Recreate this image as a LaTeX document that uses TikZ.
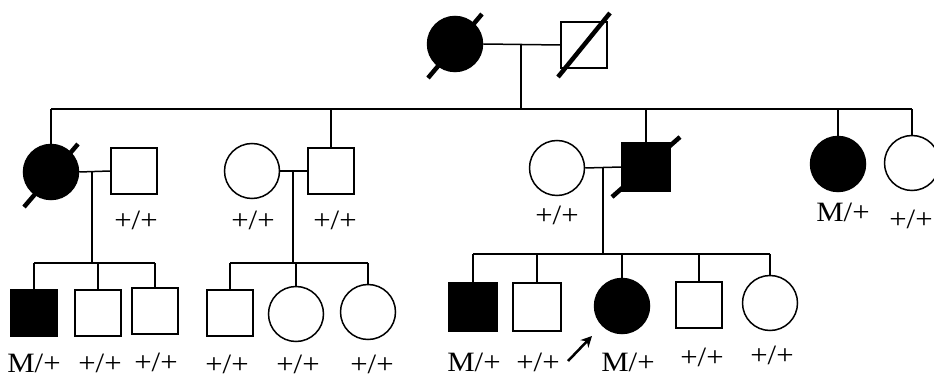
\documentclass[tikz,border=0pt]{standalone}
\usepackage{fontspec}
\usepackage{graphicx}
\setmainfont{Liberation Serif}
\usetikzlibrary{arrows.meta}
\newcommand\gtxt[1]{\scalebox{1.1}[1]{#1}}
\begin{document}
\begin{tikzpicture}[x=1pt,y=-1pt,line width=1.5pt,
  fem/.style={circle,draw,minimum size=55pt,inner sep=0pt},
  mal/.style={rectangle,draw,minimum size=46pt,inner sep=0pt},
  aff/.style={fill=black},
  dead/.style={line width=4.5pt},
  geno/.style={font=\fontsize{28}{28}\selectfont,inner sep=0pt}]
\useasboundingbox (0,0) rectangle (934,379);
% Generation I
\node[fem,aff] (g1f) at (455,44) {};
\node[mal] (g1m) at (584,45) {};
\draw (g1f.east) -- (g1m.west);
\coordinate (m1) at (521,45);
\coordinate (s1) at (521,109);
\draw (m1) -- (s1);
\draw[dead] ([shift={(-27,34)}]g1f.center) -- ([shift={(27,-30)}]g1f.center);
\draw[dead] ([shift={(-26,32)}]g1m.center) -- ([shift={(26,-32)}]g1m.center);
% Generation II
\node[fem,aff] (a) at (51,172) {};
\node[mal] (aS) at (134,171) {};
\node[fem] (b) at (252,171) {};
\node[mal] (bS) at (331,171) {};
\node[fem] (c) at (557,168) {};
\node[mal,aff,minimum size=48pt] (cS) at (646,167) {};
\node[fem,aff] (d) at (838,164) {};
\node[fem] (e) at (912,163) {};
\coordinate (s1L) at (a.north |- s1);
\coordinate (s1R) at (e.north |- s1);
\draw (s1L) -- (s1R);
\draw (s1L) -- (a.north);
\draw (bS.north |- s1) -- (bS.north);
\draw (cS.north |- s1) -- (cS.north);
\draw (d.north |- s1) -- (d.north);
\draw (e.north) -- (s1R);
\draw[dead] ([shift={(-27,35)}]a.center) -- ([shift={(27,-28)}]a.center);
\draw[dead] ([shift={(-34,30)}]cS.center) -- ([shift={(34,-30)}]cS.center);
\draw (a.east) -- (aS.west);
\draw (b.east) -- (bS.west);
\draw (c.east) -- (cS.west);
\coordinate (ma) at (92,171);
\coordinate (mb) at (293,171);
\coordinate (mc) at (603,168);
\node[geno] (laS) at (136,220) {\gtxt{+/+}};
\node[geno] (lb) at (253,220) {\gtxt{+/+}};
\node[geno] (lbS) at (335,220) {\gtxt{+/+}};
\node[geno] (lc) at (557,215) {\gtxt{+/+}};
\node[geno] (ld) at (843,212) {\gtxt{M/+}};
\node[geno] (le) at (911,219) {\gtxt{+/+}};
% Generation III, family a
\coordinate (sa) at (92,263);
\draw (ma) -- (sa);
\node[mal,aff] (a1) at (34,313) {};
\node[mal] (a2) at (98,313) {};
\node[mal] (a3) at (155,311) {};
\draw (a1.north |- sa) -- (a3.north |- sa);
\draw (a1.north |- sa) -- (a1.north);
\draw (a2.north |- sa) -- (a2.north);
\draw (a3.north |- sa) -- (a3.north);
\node[geno] (la1) at (34,363) {\gtxt{M/+}};
\node[geno] (la2) at (100,363) {\gtxt{+/+}};
\node[geno] (la3) at (156,362) {\gtxt{+/+}};
% family b
\coordinate (sb) at (293,263);
\draw (mb) -- (sb);
\node[mal] (b1) at (230,313) {};
\node[fem] (b2) at (296,314) {};
\node[fem] (b3) at (368,312) {};
\draw (b1.north |- sb) -- (b3.north |- sb);
\draw (b1.north |- sb) -- (b1.north);
\draw (b2.north |- sb) -- (b2.north);
\draw (b3.north |- sb) -- (b3.north);
\node[geno] (lb1) at (227,364) {\gtxt{+/+}};
\node[geno] (lb2) at (298,364) {\gtxt{+/+}};
\node[geno] (lb3) at (372,364) {\gtxt{+/+}};
% family c
\coordinate (sc) at (603,254);
\draw (mc) -- (sc);
\node[mal,aff,minimum size=48pt] (c1) at (473,307) {};
\node[mal,minimum size=48pt] (c2) at (537,307) {};
\node[fem,aff] (c3) at (622,306) {};
\node[mal] (c4) at (699,305) {};
\node[fem] (c5) at (770,303) {};
\draw (c1.north |- sc) -- (c5.north |- sc);
\draw (c1.north |- sc) -- (c1.north);
\draw (c2.north |- sc) -- (c2.north);
\draw (c3.north |- sc) -- (c3.north);
\draw (c4.north |- sc) -- (c4.north);
\draw (c5.north |- sc) -- (c5.north);
\node[geno] (lc1) at (474,362) {\gtxt{M/+}};
\node[geno] (lc2) at (538,362) {\gtxt{+/+}};
\node[geno] (lc3) at (628,362) {\gtxt{M/+}};
\node[geno] (lc4) at (702,357) {\gtxt{+/+}};
\node[geno] (lc5) at (772,355) {\gtxt{+/+}};
\coordinate (pa) at (568,361);
\coordinate (pb) at (592,336);
\draw[line width=2.5pt,-{Stealth[length=11pt,width=11pt]}] (pa) -- (pb);
\end{tikzpicture}
\end{document}
